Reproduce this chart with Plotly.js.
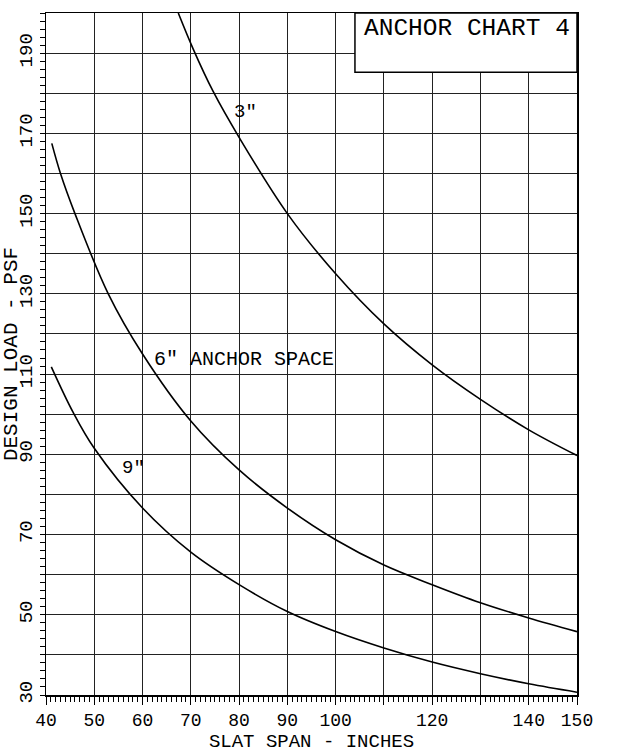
<!DOCTYPE html>
<html>
<head>
<meta charset="utf-8">
<script src="https://cdn.plot.ly/plotly-3.0.1.min.js"></script>
<style>html,body{margin:0;padding:0;background:#fff;}#chart{width:621px;height:753px;}</style>
</head>
<body>
<div id="chart"></div>
<script>
// 3" anchor space
const span3 = [67.4, 70.5, 74.6, 80, 90, 100, 110, 120, 130, 140, 150];
const load3 = [200, 191, 180.5, 169, 150, 135, 122.5, 112.3, 103.7, 96.1, 89.7];
// 6" anchor space
const span6 = [41.2, 43.0, 46.0, 52.9, 60, 70, 80, 90, 100, 110, 120, 130, 140, 150];
const load6 = [167.5, 160, 150, 130, 115, 98.3, 86.1, 76.6, 68.7, 62.4, 57.5, 53, 49.2, 45.8];
// 9" anchor space
const span9 = [41.1, 45.6, 50, 60, 70, 80, 90, 100, 110, 120, 130, 140, 150];
const load9 = [111.8, 100.5, 91.5, 76.6, 65.6, 57.5, 50.8, 45.8, 41.7, 38.2, 35.3, 32.8, 30.7];

const xTickVals = [40, 50, 60, 70, 80, 90, 100, 110, 120, 130, 140, 150];
const xTickText = ['40', '50', '60', '70', '80', '90', '100', '', '120', '', '140', '150'];
const yTickVals = [30, 40, 50, 60, 70, 80, 90, 100, 110, 120, 130, 140, 150, 160, 170, 180, 190, 200];
const yTickText = ['30', '', '50', '', '70', '', '90', '', '110', '', '130', '', '150', '', '170', '', '190', ''];

const FONT = 'Liberation Mono, DejaVu Sans Mono, monospace';
const lineStyle = {color: '#000', width: 1.6, shape: 'spline', smoothing: 1.0};

const traces = [
  {x: span3, y: load3, mode: 'lines', line: lineStyle, name: '3"', hoverinfo: 'x+y'},
  {x: span6, y: load6, mode: 'lines', line: lineStyle, name: '6"', hoverinfo: 'x+y'},
  {x: span9, y: load9, mode: 'lines', line: lineStyle, name: '9"', hoverinfo: 'x+y'}
];

const layout = {
  width: 621, height: 753,
  margin: {l: 46, r: 44, t: 13, b: 58},
  paper_bgcolor: '#fff', plot_bgcolor: '#fff',
  showlegend: false,
  font: {family: FONT, color: '#000', size: 18},
  xaxis: {
    range: [40, 150], tickmode: 'array', tickvals: xTickVals, ticktext: xTickText,
    showgrid: true, gridcolor: '#222', gridwidth: 1,
    showline: true, linecolor: '#000', linewidth: 1.5, mirror: true,
    ticks: 'outside', ticklen: 8, tickcolor: '#000', tickwidth: 1,
    minor: {tickmode: 'linear', tick0: 40, dtick: 1, ticks: 'outside', ticklen: 5, tickcolor: '#000', showgrid: false},
    tickfont: {family: FONT, size: 18},
    zeroline: false,
    title: {text: 'SLAT SPAN - INCHES', font: {family: FONT, size: 19}, standoff: 1}
  },
  yaxis: {
    range: [30, 200], tickmode: 'array', tickvals: yTickVals, ticktext: yTickText,
    showgrid: true, gridcolor: '#222', gridwidth: 1,
    showline: true, linecolor: '#000', linewidth: 1.5, mirror: true,
    ticks: 'outside', ticklen: 5, tickcolor: '#000', tickwidth: 1,
    minor: {tickmode: 'linear', tick0: 30, dtick: 2, ticks: 'outside', ticklen: 5, tickcolor: '#000', showgrid: false},
    tickangle: -90,
    tickfont: {family: FONT, size: 19},
    zeroline: false,
    title: {text: 'DESIGN LOAD - PSF', font: {family: FONT, size: 21}, standoff: 0}
  },
  shapes: [
    {type: 'rect', xref: 'x', yref: 'y', x0: 104, x1: 150, y0: 185.2, y1: 200,
     fillcolor: '#fff', line: {color: '#000', width: 1.5}, layer: 'above'}
  ],
  annotations: [
    {x: 105.5, y: 196.1, xref: 'x', yref: 'y', xanchor: 'left', yanchor: 'middle',
     text: 'ANCHOR CHART 4', showarrow: false, font: {family: FONT, size: 24.5, color: '#000'}},
    {x: 78.5, y: 175.3, xref: 'x', yref: 'y', xanchor: 'left', yanchor: 'middle',
     text: '3"', showarrow: false, font: {family: FONT, size: 19, color: '#000'}},
    {x: 62.0, y: 113.7, xref: 'x', yref: 'y', xanchor: 'left', yanchor: 'middle',
     text: '6" ANCHOR SPACE', showarrow: false, font: {family: FONT, size: 20, color: '#000'}},
    {x: 55.3, y: 86.6, xref: 'x', yref: 'y', xanchor: 'left', yanchor: 'middle',
     text: '9"', showarrow: false, font: {family: FONT, size: 19, color: '#000'}}
  ]
};

Plotly.newPlot('chart', traces, layout, {staticPlot: true, displayModeBar: false});
</script>
</body>
</html>
